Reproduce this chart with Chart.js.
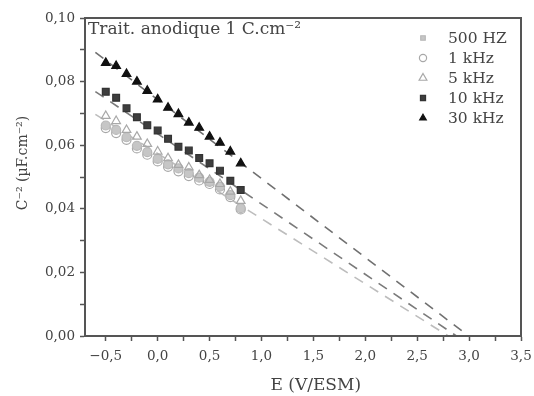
<!DOCTYPE html>
<html>
<head>
<meta charset="utf-8">
<script src="https://cdn.jsdelivr.net/npm/chart.js@4.4.0/dist/chart.umd.min.js"></script>
<style>
  html, body { margin: 0; padding: 0; background: #fff; }
</style>
</head>
<body>
<canvas id="myChart" width="534" height="396"></canvas>
<script>
// Potentiel (V/ESM)
const potentials = [-0.5, -0.4, -0.3, -0.2, -0.1, 0.0, 0.1, 0.2, 0.3, 0.4, 0.5, 0.6, 0.7, 0.8];

// C^-2 (µF.cm^-2) pour chaque fréquence
const c500Hz = [0.0662, 0.0648, 0.0625, 0.0598, 0.0578, 0.0557, 0.0540, 0.0527, 0.0512, 0.0498, 0.0485, 0.0470, 0.0443, 0.0402];
const c1kHz  = [0.0654, 0.0638, 0.0617, 0.0590, 0.0570, 0.0549, 0.0532, 0.0518, 0.0503, 0.0489, 0.0478, 0.0461, 0.0437, 0.0398];
const c5kHz  = [0.0692, 0.0676, 0.0648, 0.0627, 0.0604, 0.0580, 0.0559, 0.0538, 0.0530, 0.0506, 0.0491, 0.0478, 0.0454, 0.0425];
const c10kHz = [0.0768, 0.0749, 0.0716, 0.0688, 0.0663, 0.0646, 0.0620, 0.0595, 0.0583, 0.0560, 0.0543, 0.0520, 0.0488, 0.0459];
const c30kHz = [0.0859, 0.0849, 0.0824, 0.0800, 0.0771, 0.0744, 0.0718, 0.0698, 0.0671, 0.0655, 0.0627, 0.0608, 0.0580, 0.0543];

const seriesLabels = ['500 HZ', '1 kHz', '5 kHz', '10 kHz', '30 kHz'];

// Droites de Mott-Schottky extrapolées (pente, ordonnée à E = 0)
const fitSlopes = [-0.0248, -0.0221, -0.0205];
const fitIntercepts = [0.0743, 0.0636, 0.0574];
const fitStart = -0.6;

// Ticks
const xTickValues = [-0.5, -0.25, 0, 0.25, 0.5, 0.75, 1, 1.25, 1.5, 1.75, 2, 2.25, 2.5, 2.75, 3, 3.25, 3.5];
const yTickValues = [0, 0.01, 0.02, 0.03, 0.04, 0.05, 0.06, 0.07, 0.08, 0.09, 0.10];

const FONT = "'DejaVu Serif', serif";
const AXIS = '#555';
const TEXT = '#444';

const toPoints = (ys) => potentials.map((x, i) => ({ x: x, y: ys[i] }));

// Styles des marqueurs
const markers = [
  { data: c500Hz, pointStyle: 'circle',   radius: 4.5, bg: '#c6c6c6', border: '#b8b8b8', legendStyle: 'rect', legendRadius: 3.2 },
  { data: c1kHz,  pointStyle: 'circle',   radius: 4.5, bg: 'rgba(255,255,255,0)', border: '#a8a8a8', legendStyle: 'circle', legendRadius: 3.6 },
  { data: c5kHz,  pointStyle: 'triangle', radius: 5,   bg: 'rgba(255,255,255,0)', border: '#a8a8a8', legendStyle: 'triangle', legendRadius: 4.5 },
  { data: c10kHz, pointStyle: 'rect',     radius: 4.8, bg: '#3e3e3e', border: '#333', legendStyle: 'rect', legendRadius: 3.6 },
  { data: c30kHz, pointStyle: 'triangle', radius: 5,   bg: '#111', border: '#111', legendStyle: 'triangle', legendRadius: 3.8 }
];
const fitColors = ['#707070', '#7a7a7a', '#bdbdbd'];

const datasets = [];
// ordre de dessin : 30k, 10k, 5k, 500, 1k (le premier est dessiné au-dessus)
[4, 3, 2, 0, 1].forEach((k, n) => {
  const m = markers[k];
  datasets.push({
    label: seriesLabels[k],
    data: toPoints(m.data),
    pointStyle: m.pointStyle,
    pointRadius: m.radius,
    backgroundColor: m.bg,
    borderColor: m.border,
    borderWidth: 1.2,
    showLine: false,
    order: n
  });
});
fitSlopes.forEach((s, i) => {
  const root = -fitIntercepts[i] / s;
  datasets.push({
    label: 'fit' + i,
    data: [{ x: fitStart, y: fitIntercepts[i] + s * fitStart }, { x: root, y: 0 }],
    showLine: true,
    borderColor: fitColors[i],
    borderWidth: 1.6,
    borderDash: [10, 8],
    pointRadius: 0,
    order: 20
  });
});

// Cadre autour de la zone de tracé + légende + annotation
const decorPlugin = {
  id: 'decor',
  afterDraw(chart) {
    const ctx = chart.ctx;
    const a = chart.chartArea;
    ctx.save();
    ctx.strokeStyle = AXIS;
    ctx.lineWidth = 2;
    ctx.strokeRect(a.left, a.top, a.right - a.left, a.bottom - a.top);

    // annotation
    ctx.fillStyle = TEXT;
    ctx.font = '17px ' + FONT;
    ctx.textBaseline = 'alphabetic';
    ctx.textAlign = 'left';
    ctx.fillText('Trait. anodique 1 C.cm\u207B\u00B2', a.left + 3, a.top + 16);

    // légende
    seriesLabels.forEach((lab, i) => {
      const m = markers[i];
      const y = a.top + 20 + i * 20;
      const x = a.left + 338;
      ctx.fillStyle = m.bg;
      ctx.strokeStyle = m.border;
      ctx.lineWidth = 1.2;
      Chart.helpers.drawPoint(ctx, { pointStyle: m.legendStyle, radius: m.legendRadius, borderWidth: 1.2, rotation: 0 }, x, y);
      ctx.fillStyle = TEXT;
      ctx.font = '15.5px ' + FONT;
      ctx.textBaseline = 'middle';
      ctx.fillText(lab, x + 25, y + 1);
    });
    ctx.restore();
  }
};

const fmt = (v, d) => v.toFixed(d).replace('.', ',').replace('-', '\u2212');

const config = {
  type: 'scatter',
  data: { datasets: datasets },
  options: {
    responsive: false,
    animation: false,
    layout: { padding: { top: 18, right: 13, left: 0, bottom: 0 } },
    plugins: {
      legend: { display: false },
      tooltip: { enabled: false }
    },
    scales: {
      x: {
        type: 'linear',
        min: -0.7,
        max: 3.5,
        afterBuildTicks: (axis) => { axis.ticks = xTickValues.map(v => ({ value: v })); },
        afterFit: (axis) => { axis.height = 60; axis.paddingLeft = 0; axis.paddingRight = 0; },
        border: { color: AXIS, width: 2 },
        grid: { drawOnChartArea: false, drawTicks: true, tickLength: 5, tickColor: AXIS, tickWidth: 1.5 },
        ticks: {
          autoSkip: false,
          maxRotation: 0,
          padding: 7,
          color: TEXT,
          font: { family: FONT, size: 13.5 },
          callback: (v) => (Math.abs(v * 2 - Math.round(v * 2)) < 1e-6 ? fmt(v, 1) : '')
        },
        title: {
          display: true,
          text: '\u2002\u2002\u2002E (V/ESM)',
          color: TEXT,
          font: { family: FONT, size: 17 },
          padding: { top: 0, bottom: 0 }
        }
      },
      y: {
        type: 'linear',
        min: 0,
        max: 0.10,
        afterBuildTicks: (axis) => { axis.ticks = yTickValues.map(v => ({ value: v })); },
        afterFit: (axis) => { axis.width = 85; axis.paddingTop = 0; axis.paddingBottom = 0; },
        border: { color: AXIS, width: 2 },
        grid: { drawOnChartArea: false, drawTicks: true, tickLength: 5, tickColor: AXIS, tickWidth: 1.5 },
        ticks: {
          autoSkip: false,
          padding: 5,
          color: TEXT,
          font: { family: FONT, size: 13.5 },
          callback: (v) => (Math.round(v * 100) % 2 === 0 ? fmt(v, 2) : '')
        },
        title: {
          display: true,
          text: '\u2002\u2002\u2002\u2002C\u207B\u00B2 (\u00B5F.cm\u207B\u00B2)',
          color: TEXT,
          font: { family: FONT, size: 14 },
          padding: { top: 15, bottom: 0 }
        }
      }
    }
  },
  plugins: [decorPlugin]
};

const myChart = new Chart(document.getElementById('myChart'), config);
</script>
</body>
</html>
